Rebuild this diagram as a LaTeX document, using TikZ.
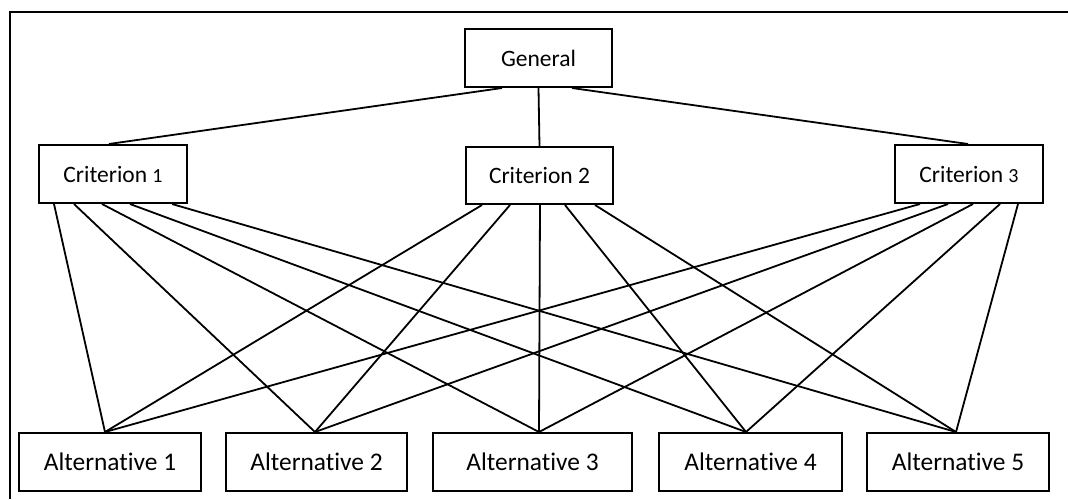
\documentclass[tikz,border=0pt]{standalone}
\usepackage{fontspec}
\setmainfont{Carlito}[Ligatures=NoCommon]
\usepackage{tikz}
\tikzset{critbox/.style={
  shape=rectangle,
  draw=black,
  line width=2pt,
  minimum width=148pt,
  minimum height=58pt,
  inner sep=0pt,
  font=\fontsize{23.5}{26}\selectfont,
  }
}
\tikzset{altbox/.style={
  shape=rectangle,
  draw=black,
  line width=2pt,
  minimum width=182pt,
  minimum height=58pt,
  inner sep=0pt,
  font=\fontsize{25.4}{28}\selectfont,
  }
}
\tikzset{link/.style={
  line width=1.8pt,
  draw=black,
  }
}
\newcommand{\smalldigit}[1]{{\fontsize{20}{22}\selectfont #1}}

\begin{document}
\begin{tikzpicture}[x=1pt,y=-1pt]
      \useasboundingbox (0,0) rectangle (1068,499);
      \draw [line width=2.5pt] (1068,12) -- (10,12) -- (10,499);

      \node [critbox, minimum width=147pt] (gen) at (538.5,58) {General};
      \node [critbox] (crit1) at (113,174) {Criterion \smalldigit{1}};
      \node [critbox, minimum width=147pt, minimum height=57pt] (crit2) at (539.5,175.5) {Criterion 2};
      \node [critbox] (crit3) at (969,174) {Criterion \smalldigit{3}};

      \node [altbox] (alt1) at (110,462) {Alternative 1};
      \node [altbox, minimum width=181pt] (alt2) at (316.5,462) {Alternative 2};
      \node [altbox, minimum width=199pt] (alt3) at (532.5,462) {Alternative 3};
      \node [altbox, minimum width=183pt] (alt4) at (750.5,462) {Alternative 4};
      \node [altbox] (alt5) at (958,462) {Alternative 5};

      % general to criteria
      \draw [link] ([xshift=-36.5pt]gen.south) -- ([xshift=-4pt]crit1.north);
      \draw [link] (gen.south) -- (crit2.north);
      \draw [link] ([xshift=33.5pt]gen.south) -- ([xshift=-1pt]crit3.north);

      % criterion 1 to alternatives
      \draw [link] ([xshift=-59pt]crit1.south) -- ([xshift=-5pt]alt1.north);
      \draw [link] ([xshift=-39pt]crit1.south) -- ([xshift=-1.5pt]alt2.north);
      \draw [link] ([xshift=-11pt]crit1.south) -- ([xshift=6.5pt]alt3.north);
      \draw [link] ([xshift=17pt]crit1.south) -- ([xshift=-4.5pt]alt4.north);
      \draw [link] ([xshift=59pt]crit1.south) -- ([xshift=-2pt]alt5.north);

      % criterion 2 to alternatives
      \draw [link] ([xshift=-57.5pt]crit2.south) -- ([xshift=-5pt]alt1.north);
      \draw [link] ([xshift=-29.5pt]crit2.south) -- ([xshift=-1.5pt]alt2.north);
      \draw [link] ([xshift=0.5pt]crit2.south) -- ([xshift=6.5pt]alt3.north);
      \draw [link] ([xshift=25.5pt]crit2.south) -- ([xshift=-4.5pt]alt4.north);
      \draw [link] ([xshift=55.5pt]crit2.south) -- ([xshift=-2pt]alt5.north);

      % criterion 3 to alternatives
      \draw [link] ([xshift=-49pt]crit3.south) -- ([xshift=-5pt]alt1.north);
      \draw [link] ([xshift=-21pt]crit3.south) -- ([xshift=-1.5pt]alt2.north);
      \draw [link] ([xshift=4pt]crit3.south) -- ([xshift=6.5pt]alt3.north);
      \draw [link] ([xshift=31pt]crit3.south) -- ([xshift=-4.5pt]alt4.north);
      \draw [link] ([xshift=49pt]crit3.south) -- ([xshift=-2pt]alt5.north);
    \end{tikzpicture}
\end{document}
